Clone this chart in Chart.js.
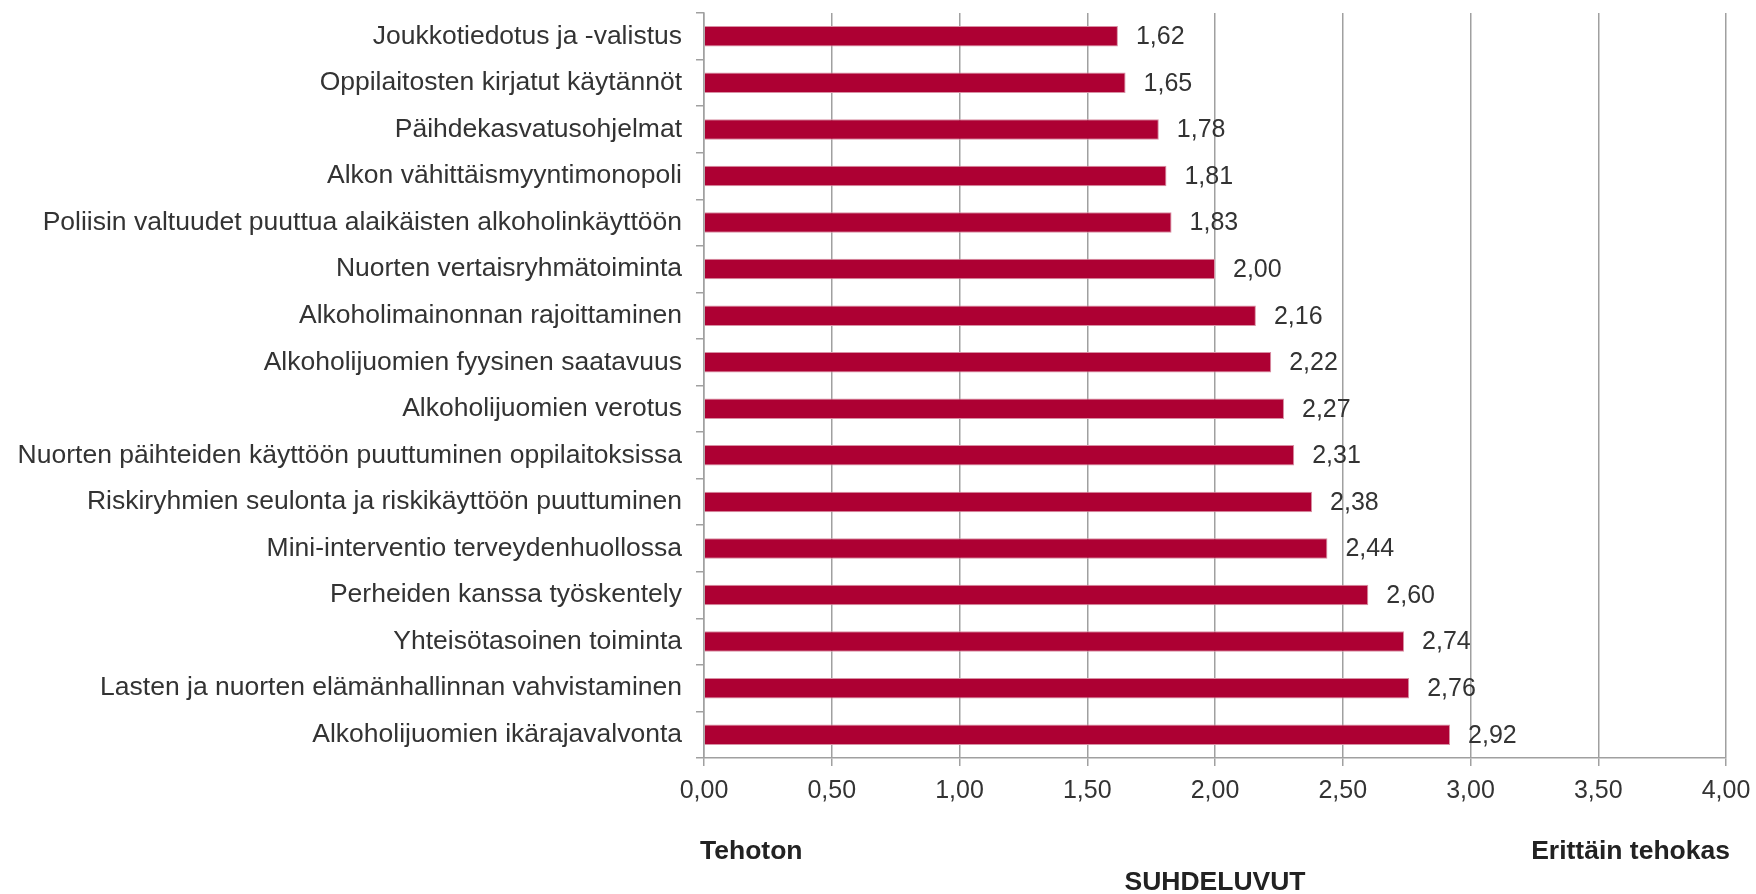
<!DOCTYPE html>
<html lang="fi">
<head>
    <meta charset="UTF-8">
    <title>Suhdeluvut</title>
    <script src="https://cdn.jsdelivr.net/npm/chart.js"></script>
    <style>
        html, body {
            margin: 0;
            padding: 0;
            background: #fff;
        }
        #wrap {
            width: 1756px;
            height: 894px;
        }
    </style>
</head>
<body>
    <div id="wrap"><canvas id="myChart"></canvas></div>

    <script>
        const categories = [
            'Joukkotiedotus ja -valistus',
            'Oppilaitosten kirjatut käytännöt',
            'Päihdekasvatusohjelmat',
            'Alkon vähittäismyyntimonopoli',
            'Poliisin valtuudet puuttua alaikäisten alkoholinkäyttöön',
            'Nuorten vertaisryhmätoiminta',
            'Alkoholimainonnan rajoittaminen',
            'Alkoholijuomien fyysinen saatavuus',
            'Alkoholijuomien verotus',
            'Nuorten päihteiden käyttöön puuttuminen oppilaitoksissa',
            'Riskiryhmien seulonta ja riskikäyttöön puuttuminen',
            'Mini-interventio terveydenhuollossa',
            'Perheiden kanssa työskentely',
            'Yhteisötasoinen toiminta',
            'Lasten ja nuorten elämänhallinnan vahvistaminen',
            'Alkoholijuomien ikärajavalvonta'
        ];
        const values = [1.62, 1.65, 1.78, 1.81, 1.83, 2.00, 2.16, 2.22, 2.27, 2.31, 2.38, 2.44, 2.60, 2.74, 2.76, 2.92];
        const axisMin = 0;
        const axisMax = 4;
        const axisStep = 0.5;
        const axisTitle = 'SUHDELUVUT';
        const lowLabel = 'Tehoton';
        const highLabel = 'Erittäin tehokas';

        const fmt = v => v.toFixed(2).replace('.', ',');
        const textColor = '#333333';
        const gridColor = '#a0a0a0';
        const family = '"Liberation Sans", Arial, sans-serif';

        // value labels next to each bar + the texts under the axis
        const extraText = {
            id: 'extraText',
            afterDatasetsDraw(chart) {
                const ctx = chart.ctx;
                const meta = chart.getDatasetMeta(0);
                ctx.save();
                ctx.fillStyle = textColor;
                ctx.font = '25px ' + family;
                ctx.textAlign = 'left';
                ctx.textBaseline = 'middle';
                meta.data.forEach((bar, i) => {
                    ctx.fillText(fmt(values[i]), bar.x + 18, bar.y + 1);
                });

                const area = chart.chartArea;
                ctx.font = 'bold 26.5px ' + family;
                ctx.fillStyle = '#222';
                ctx.textAlign = 'left';
                ctx.fillText(lowLabel, area.left - 4, 852);
                ctx.textAlign = 'right';
                ctx.fillText(highLabel, area.right + 4, 852);
                ctx.textAlign = 'center';
                ctx.fillText(axisTitle, (area.left + area.right) / 2, 883);
                ctx.restore();
            }
        };

        const ctx = document.getElementById('myChart').getContext('2d');
        const myChart = new Chart(ctx, {
            type: 'bar',
            data: {
                labels: categories,
                datasets: [{
                    data: values,
                    backgroundColor: '#ad0033',
                    borderColor: '#d890a4',
                    borderWidth: 1,
                    categoryPercentage: 1,
                    barPercentage: 0.44
                }]
            },
            options: {
                indexAxis: 'y',
                responsive: true,
                maintainAspectRatio: false,
                animation: false,
                layout: {
                    padding: { top: 13, right: 30, left: 0, bottom: 0 }
                },
                scales: {
                    x: {
                        min: axisMin,
                        max: axisMax,
                        ticks: {
                            stepSize: axisStep,
                            color: textColor,
                            font: { family: family, size: 25 },
                            padding: 10,
                            callback: v => fmt(v)
                        },
                        grid: {
                            color: gridColor,
                            lineWidth: 1.5,
                            tickLength: 8
                        },
                        border: { color: gridColor, width: 1.5 },
                        afterFit: scale => {
                            scale.height = 136;
                            scale.paddingLeft = 0;
                            scale.paddingRight = 0;
                        }
                    },
                    y: {
                        ticks: {
                            color: textColor,
                            font: { family: family, size: 26.5 },
                            padding: 14
                        },
                        grid: {
                            drawOnChartArea: false,
                            color: gridColor,
                            lineWidth: 1.5,
                            tickLength: 8
                        },
                        border: { color: gridColor, width: 1.5 },
                        afterFit: scale => {
                            scale.width = 704;
                            scale.paddingTop = 0;
                            scale.paddingBottom = 0;
                        }
                    }
                },
                plugins: {
                    legend: { display: false },
                    tooltip: { enabled: false }
                }
            },
            plugins: [extraText]
        });
    </script>
</body>
</html>
